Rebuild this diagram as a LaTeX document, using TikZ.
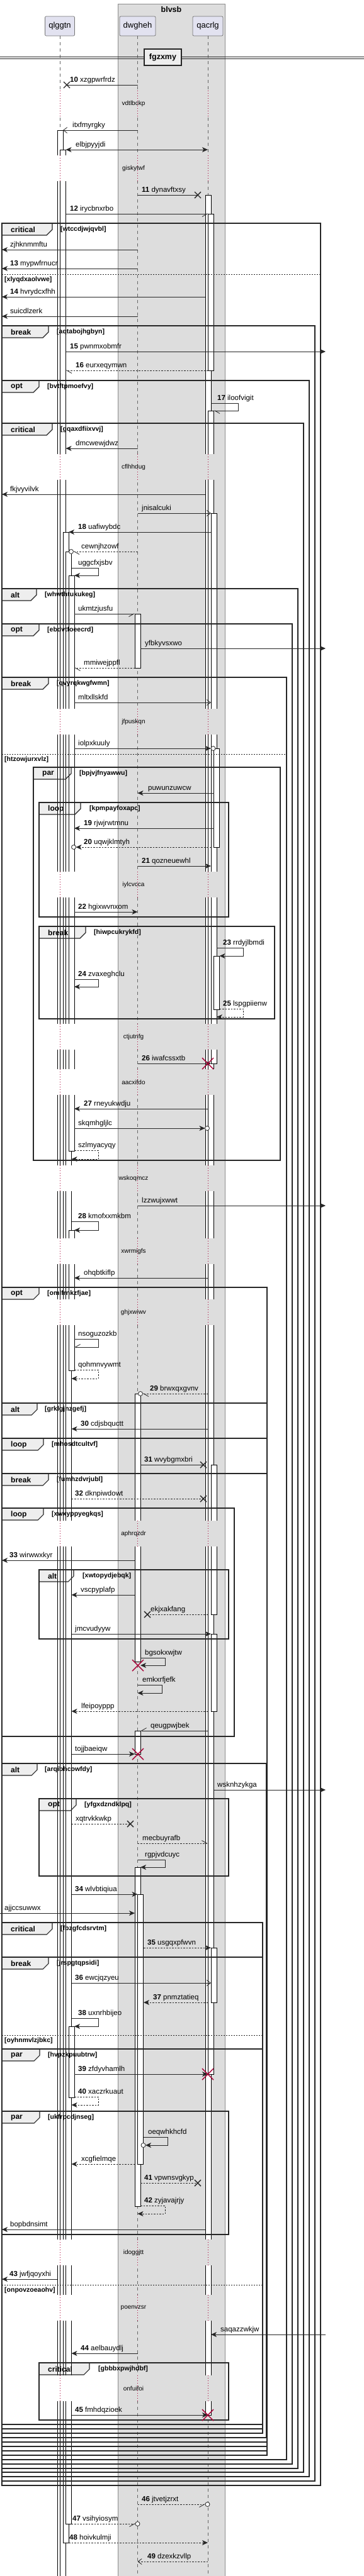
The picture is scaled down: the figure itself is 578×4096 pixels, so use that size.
\documentclass[tikz,border=0pt]{standalone}
\usepackage{fontspec}
\setmainfont{Liberation Sans}
\usetikzlibrary{arrows.meta}
\pgfdeclarelayer{base}
\pgfdeclarelayer{tabs}
\pgfsetlayers{base,tabs,main}

\definecolor{bandgray}{HTML}{DDDDDD}
\definecolor{headfill}{HTML}{E2E2F0}
\definecolor{killred}{HTML}{A80036}
\definecolor{tabgray}{HTML}{EEEEEE}

\newcommand\actbox[3]{\draw[act] (#1,#2) rectangle (#1+9,#3);}
\newcommand\lostx[2]{\draw[lostx] (#1-5,#2-5) -- (#1+5,#2+5) (#1-5,#2+5) -- (#1+5,#2-5);}
\newcommand\killx[2]{\draw[killx] (#1-9,#2-9) -- (#1+9,#2+9) (#1-9,#2+9) -- (#1+9,#2-9);}
\newcommand\ring[2]{\draw[ring] (#1,#2) circle[radius=3.5pt];}
\newcommand\msg[6][]{%
  \coordinate (ms) at (#2,#4);
  \coordinate (me) at (#3,#4);
  \draw[msgline,#1] (ms) -- (me);
  \node[lbl] (lb) at (#5,#4-4.5) {#6};}
\newcommand\selfmsg[8][]{%
  \coordinate (ms) at (#2,#5);
  \coordinate (mr) at (#3,#5);
  \coordinate (me) at (#4,#6);
  \draw[msgline,#1] (ms) -- (mr) |- (me);
  \node[lbl] (lb) at (#7,#5-4.5) {#8};}
\newcommand\delay[4]{%
  \fill[white] (86,#1) rectangle (122,#2);
  \fill[bandgray] (208,#1) rectangle (231,#2);
  \fill[bandgray] (320,#1) rectangle (352,#2);
  \draw[dly] (95,#1) -- (95,#2) (218.5,#1) -- (218.5,#2) (330,#1) -- (330,#2);
  \node[dtxt] (dt) at (212,#3) {#4};}
\newcommand\frm[8]{%
  \begin{pgfonlayer}{tabs}
    \fill[tabgray] (#1,#2) -- ++(#6,0) -- ++(0,10) -- ++(-9,9) -- (#1,#2+19) -- cycle;
  \end{pgfonlayer}
  \draw[frameline] (#1,#2) rectangle (#3,#4);
  \draw[tabline] (#1,#2+19) -- ++(#6-9,0) -- ++(9,-9) -- ++(0,-10);
  \node[tabtxt] (ft) at (#1+14,#2+10) {#5};
  \node[guard] (fg) at (#7,#2+10) {#8};}
\newcommand\elsesep[4]{%
  \draw[elseline] (#1,#3) -- (#2,#3);
  \node[guard] (eg) at (#1+4,#3+9) {#4};}

\begin{document}
\begin{tikzpicture}
  [x=1pt, y=-1pt, >={Stealth[length=9pt,width=8pt,inset=2.5pt]},
   lbl/.style={anchor=base west, inner sep=0pt, font=\fontsize{11.5}{13}\selectfont},
   msgline/.style={draw=black!85, line width=0.8pt},
   ret/.style={dash pattern=on 2.5pt off 2pt},
   fil/.style={->},
   both/.style={<->},
   opn/.style={-{Straight Barb[length=6pt,width=9pt]}},
   hpl/.style={-{Straight Barb[harpoon,length=8pt,width=9pt]}},
   hpr/.style={-{Straight Barb[harpoon,swap,length=8pt,width=9pt]}},
   act/.style={draw=black, fill=white, line width=0.7pt},
   life/.style={draw=black!60, dash pattern=on 5pt off 5pt, line width=0.6pt},
   dly/.style={draw=killred, dash pattern=on 1pt off 3pt, line width=0.8pt},
   dtxt/.style={inner sep=0pt, font=\fontsize{10}{12}\selectfont},
   head/.style={draw=black!55, fill=headfill, rounded corners=2pt, line width=0.7pt,
     minimum height=31pt, font=\fontsize{13}{15}\selectfont},
   frameline/.style={draw=black!85, line width=1.3pt},
   tabline/.style={draw=black!85, line width=1.1pt},
   tabtxt/.style={anchor=west, inner sep=0pt, font=\bfseries\fontsize{12}{14}\selectfont},
   guard/.style={anchor=west, inner sep=0pt, font=\bfseries\fontsize{10.5}{12}\selectfont},
   elseline/.style={draw=black!85, dash pattern=on 2pt off 2pt, line width=0.6pt},
   lostx/.style={draw=black!85, line width=1.4pt},
   killx/.style={draw=killred, line width=1.4pt},
   ring/.style={draw=black!85, fill=white, line width=0.8pt}]
\useasboundingbox (0,0) rectangle (578,4096);
\begin{pgfonlayer}{base}
  \fill[bandgray] (187,6) rectangle (357,4096);
  \draw[black!45, line width=0.6pt] (187,4096) -- (187,6) -- (357,6) -- (357,4096);
\end{pgfonlayer}
\node[font=\bfseries\fontsize{12.5}{14}\selectfont] (bx) at (272,15) {blvsb};
\node[head, minimum width=47pt] (ql) at (95,41.5) {qlggtn};
\node[head, minimum width=57pt] (dw) at (218.5,41.5) {dwgheh};
\node[head, minimum width=48pt] (qa) at (330,41.5) {qacrlg};
\draw[life] (ql.south) -- (ql.south |- 0,4096);
\draw[life] (dw.south) -- (dw.south |- 0,4096);
\draw[life] (qa.south) -- (qa.south |- 0,4096);

% divider
\draw[black!85, line width=0.9pt] (0,90) -- (578,90) (0,93) -- (578,93);
\node[draw=black!85, fill=tabgray, line width=1.8pt, minimum width=59pt, minimum height=26pt,
  font=\bfseries\fontsize{12.5}{14}\selectfont] (dv) at (258.5,91) {fgzxmy};

% activations
\actbox{91}{207}{4110}
\actbox{95.5}{238}{4110}
\actbox{100}{846}{4043}
\actbox{104.5}{877}{4013}
\actbox{109}{915}{1830}
\actbox{109}{1956}{2179}
\actbox{109}{3222}{3335}
\actbox{214}{976}{1062}
\actbox{214}{2216}{2642}
\actbox{214}{2752}{2789}
\actbox{214}{2969}{3508}
\actbox{218.5}{3012}{3441}
\actbox{326}{310}{3840}
\actbox{330.5}{340}{589}
\actbox{330.5}{653}{3298}
\actbox{335}{816}{1691}
\actbox{339.5}{1190}{1347}
\actbox{339.5}{1520}{1605}
\actbox{335}{2329}{2567}
\actbox{335}{2598}{2721}
\actbox{335}{3097}{3184}

% delays
\delay{144}{186}{165}{vdtlbckp}
\delay{247}{288}{268}{giskytwf}
\delay{722}{763}{743}{cflhhdug}
\delay{1127}{1168}{1148}{jfpuskqn}
\delay{1386}{1427}{1407}{iylcvcca}
\delay{1628}{1669}{1649}{ctjutnfg}
\delay{1700}{1741}{1721}{aacxifdo}
\delay{1853}{1894}{1874}{wskoqmcz}
\delay{1969}{2010}{1990}{xwrmigfs}
\delay{2066}{2107}{2087}{ghjxwiwv}
\delay{2418}{2459}{2439}{aphrqzdr}
\delay{3561}{3602}{3582}{idoggjtt}
\delay{3649}{3690}{3670}{poenvzsr}
\delay{3777}{3818}{3798}{onfuifoi}

% frames
\frm{3}{355}{509}{3952}{critical}{80}{96}{[wtccdjwjqvbl]}
\elsesep{3}{509}{436}{[xlyqdxaolvwe]}
\frm{3}{518}{500}{3945}{break}{74}{90}{[aqtabojhgbyn]}
\frm{3}{605}{491}{3938}{opt}{59}{75}{[bvtftpmoefvy]}
\frm{3}{673}{482}{3931}{critical}{80}{96}{[gqaxdfiixvvj]}
\frm{3}{936}{473}{3925}{alt}{55}{71}{[whwthtukukeg]}
\frm{3}{992}{464}{3918}{opt}{59}{75}{[ebdvtfoeecrd]}
\frm{3}{1077}{455}{3911}{break}{74}{90}{[qvyrqkwgfwmn]}
\elsesep{3}{455}{1199}{[htzowjurxvlz]}
\frm{53}{1220}{445}{1845}{par}{60}{126}{[bpjvjfnyawwu]}
\frm{62}{1276}{363}{1458}{loop}{66}{142}{[kpmpayfoxapc]}
\frm{62}{1473}{436}{1620}{break}{74}{149}{[hiwpcukrykfd]}
\frm{3}{2047}{424}{3904}{opt}{59}{75}{[omlfrnkzfjae]}
\frm{3}{2231}{424}{3897}{alt}{56}{71}{[grklgjnzgefj]}
\frm{3}{2287}{424}{3890}{loop}{66}{82}{[mhosdtcultvf]}
\frm{3}{2343}{424}{3883}{break}{74}{90}{[fumhzdvrjubl]}
\frm{3}{2398}{372}{2761}{loop}{66}{82}{[xwxyppyegkqs]}
\frm{62}{2496}{363}{2606}{alt}{55}{131}{[xwtopydjebqk]}
\frm{3}{2804}{423}{3876}{alt}{56}{71}{[arqibhcowfdy]}
\frm{62}{2860}{363}{2983}{opt}{59}{134}{[yfgxdzndklpq]}
\frm{3}{3057}{417}{3869}{critical}{80}{96}{[fbzgfcdsrvtm]}
\frm{3}{3112}{417}{3862}{break}{74}{90}{[jrspgtqpsidi]}
\elsesep{3}{417}{3236}{[oyhnmvlzjbkc]}
\frm{3}{3258}{417}{3855}{par}{60}{76}{[hvpzkpuubtrw]}
\frm{3}{3357}{363}{3553}{par}{60}{76}{[ukfrpcdjnseg]}
\elsesep{3}{417}{3633}{[onpovzoeaohv]}
\frm{62}{3757}{363}{3848}{critical}{80}{156}{[gbbbxpwjhdbf]}

% messages
\msg{218.5}{106}{135}{111}{\textbf{10} xzgpwrfrdz} \lostx{106}{135}
\msg[opn]{218.5}{100}{207}{115}{itxfmyrgky}
\msg[both]{104.5}{330}{238}{120}{elbjpyyjdi}
\msg{218.5}{314}{310}{225}{\textbf{11} dynavftxsy} \lostx{314}{310}
\msg[hpr]{104.5}{330.5}{340}{111}{\textbf{12} irycbnxrbo}
\msg[fil]{218.5}{3}{397}{16}{zjhknmmftu}
\msg[fil]{218.5}{3}{427}{16}{\textbf{13} mypwfrnucr}
\msg[fil]{326}{3}{472}{16}{\textbf{14} hvrydcxfhh}
\msg[fil]{218.5}{3}{503}{16}{suicdlzerk}
\msg[fil]{104.5}{517}{559}{111}{\textbf{15} pwnmxobmfr}
\msg[ret,hpl]{330.5}{104.5}{589}{120}{\textbf{16} eurxeqymwn}
\selfmsg[hpl]{335}{378}{339.5}{641}{653}{345}{\textbf{17} iloofvigit}
\msg[fil]{218.5}{104.5}{713}{120}{dmcwewjdwz}
\msg[fil]{326}{3}{786}{16}{fkjvyvilvk}
\msg[opn]{218.5}{335}{816}{225}{jnisalcuki}
\msg[fil]{335}{109}{846}{124}{\textbf{18} uafiwybdc}
\msg[ret,hpl]{218.5}{116.5}{877}{129}{cewnjhzowf} \ring{113}{877}
\selfmsg[fil]{113.5}{156}{118}{903}{915}{124}{uggcfxjsbv}
\msg[hpr]{118}{214}{976}{124}{ukmtzjusfu}
\msg[fil]{223}{517}{1031}{230}{yfbkyvsxwo}
\msg[ret,hpl]{214}{118}{1062}{133}{mmiwejppfl}
\msg[opn]{118}{335}{1117}{124}{mltxllskfd}
\msg[fil]{118}{335}{1190}{124}{iolpxkuuly} \ring{338.5}{1190}
\msg[fil]{339.5}{218.5}{1261}{235}{puwunzuwcw}
\msg[fil]{339.5}{118}{1317}{133}{\textbf{19} rjwjrwtmnu}
\msg[ret,fil]{335}{120.5}{1347}{133}{\textbf{20} uqwjklmtyh} \ring{117}{1347}
\msg[fil]{218.5}{335}{1377}{225}{\textbf{21} qozneuewhl}
\msg[fil]{118}{218.5}{1450}{124}{\textbf{22} hgixwvnxom}
\selfmsg[fil]{344}{386}{348.5}{1507}{1520}{354}{\textbf{23} rrdyjlbmdi}
\selfmsg[fil]{118}{156}{118}{1557}{1569}{124}{\textbf{24} zvaxeghclu}
\selfmsg[ret,fil]{348.5}{386}{344}{1604}{1617}{354}{\textbf{25} lspgpiienw}
\msg[fil]{218.5}{335}{1691}{225}{\textbf{26} iwafcssxtb} \killx{330}{1691}
\msg[fil]{330}{118}{1763}{133}{\textbf{27} rneyukwdju}
\msg[fil]{118}{325.5}{1794}{124}{skqmhgljlc} \ring{329}{1794}
\selfmsg[ret,fil]{118}{156}{113.5}{1829}{1843}{124}{szlmyacyqy}
\msg[fil]{218.5}{517}{1917}{225}{lzzwujxwwt}
\selfmsg[fil]{113.5}{156}{118}{1942}{1956}{124}{\textbf{28} kmofxxmkbm}
\msg[fil]{330}{118}{2032}{133}{ohqbtkiflp}
\selfmsg[hpr]{118}{156}{118}{2129}{2142}{124}{nsoguzozkb}
\selfmsg[ret,fil]{118}{156}{113.5}{2178}{2192}{124}{qohmnvywmt}
\msg[ret,hpl]{330}{226.5}{2216}{238}{\textbf{29} brwxqxgvnv} \ring{223}{2216}
\msg[fil]{330}{113.5}{2272}{128}{\textbf{30} cdjsbquctt}
\msg{223}{323}{2329}{229}{\textbf{31} wvybgmxbri} \lostx{323}{2329}
\msg[ret]{113.5}{323}{2383}{119}{\textbf{32} dknpiwdowt} \lostx{323}{2383}
\msg[fil]{214}{3}{2481}{15}{\textbf{33} wirwwxkyr}
\msg[fil]{214}{113.5}{2536}{128}{vscpyplafp}
\msg[ret]{330}{234}{2567}{239}{ekjxakfang} \lostx{234}{2567}
\msg[fil]{113.5}{335}{2598}{119}{jmcvudyyw}
\selfmsg[fil]{223}{262}{223}{2636}{2648}{230}{bgsokxwjtw} \killx{219}{2648}
\selfmsg[fil]{218.5}{257}{218.5}{2679}{2692}{226}{emkxrfjefk}
\msg[ret,fil]{330}{113.5}{2721}{129}{lfeipoyppp}
\msg[hpr]{330}{223}{2752}{239}{qeugpwjbek}
\msg[fil]{113.5}{214}{2789}{119}{tojjbaeiqw} \killx{219}{2789}
\msg[fil]{339.5}{517}{2846}{345}{wsknhzykga}
\msg[ret]{113.5}{207}{2900}{120}{xqtrvkkwkp} \lostx{207}{2900}
\msg[ret,hpl]{218.5}{330}{2931}{226}{mecbuyrafb}
\selfmsg[fil]{218.5}{262}{223}{2957}{2969}{230}{rgpjvdcuyc}
\msg[fil]{113.5}{218.5}{3012}{119}{\textbf{34} wlvbtiqiua}
\msg[fil]{0}{214}{3042}{7}{ajjccsuwwx}
\msg[ret,fil]{228}{335}{3097}{234}{\textbf{35} usgqxpfwvn}
\msg[opn]{113.5}{335}{3153}{119}{\textbf{36} ewcjqzyeu}
\msg[ret,fil]{330}{228}{3184}{243}{\textbf{37} pnmztatieq}
\selfmsg[fil]{113.5}{156}{118}{3209}{3222}{124}{\textbf{38} uxnrhbijeo}
\msg[fil]{118}{330}{3298}{124}{\textbf{39} zfdyvhamlh} \killx{330}{3298}
\selfmsg[ret,fil]{118}{156}{113.5}{3334}{3347}{124}{\textbf{40} xaczrkuaut}
\selfmsg[fil]{228}{266}{231}{3398}{3411}{235}{oeqwhkhcfd} \ring{227.5}{3411}
\msg[ret,fil]{214}{113.5}{3441}{129}{xcgfielmqe}
\msg[ret]{223}{314}{3471}{229}{\textbf{41} vpwnsvgkyp} \lostx{314}{3471}
\selfmsg[ret,fil]{223}{262}{218.5}{3507}{3520}{229}{\textbf{42} zyjavajrjy}
\msg[fil]{326}{3}{3545}{16}{bopbdnsimt}
\msg[fil]{91}{3}{3624}{15}{\textbf{43} jwfjqoyxhi}
\msg[fil]{517}{335}{3712}{350}{saqazzwkjw}
\msg[fil]{218.5}{113.5}{3742}{128}{\textbf{44} aelbauydlj}
\msg[fil]{113.5}{330}{3840}{119}{\textbf{45} fmhdqzioek} \killx{330}{3840}
\msg[ret,hpr]{218.5}{326}{3982}{225}{\textbf{46} jtvetjzrxt} \ring{329.5}{3982}
\msg[ret,hpr]{113.5}{215}{4013}{115}{\textbf{47} vsihyiosym} \ring{218.5}{4013}
\msg[ret,fil]{109}{330}{4043}{110}{\textbf{48} hoivkulmji}
\msg[ret,opn]{330}{218.5}{4073}{234}{\textbf{49} dzexkzvllp}
\end{tikzpicture}
\end{document}
